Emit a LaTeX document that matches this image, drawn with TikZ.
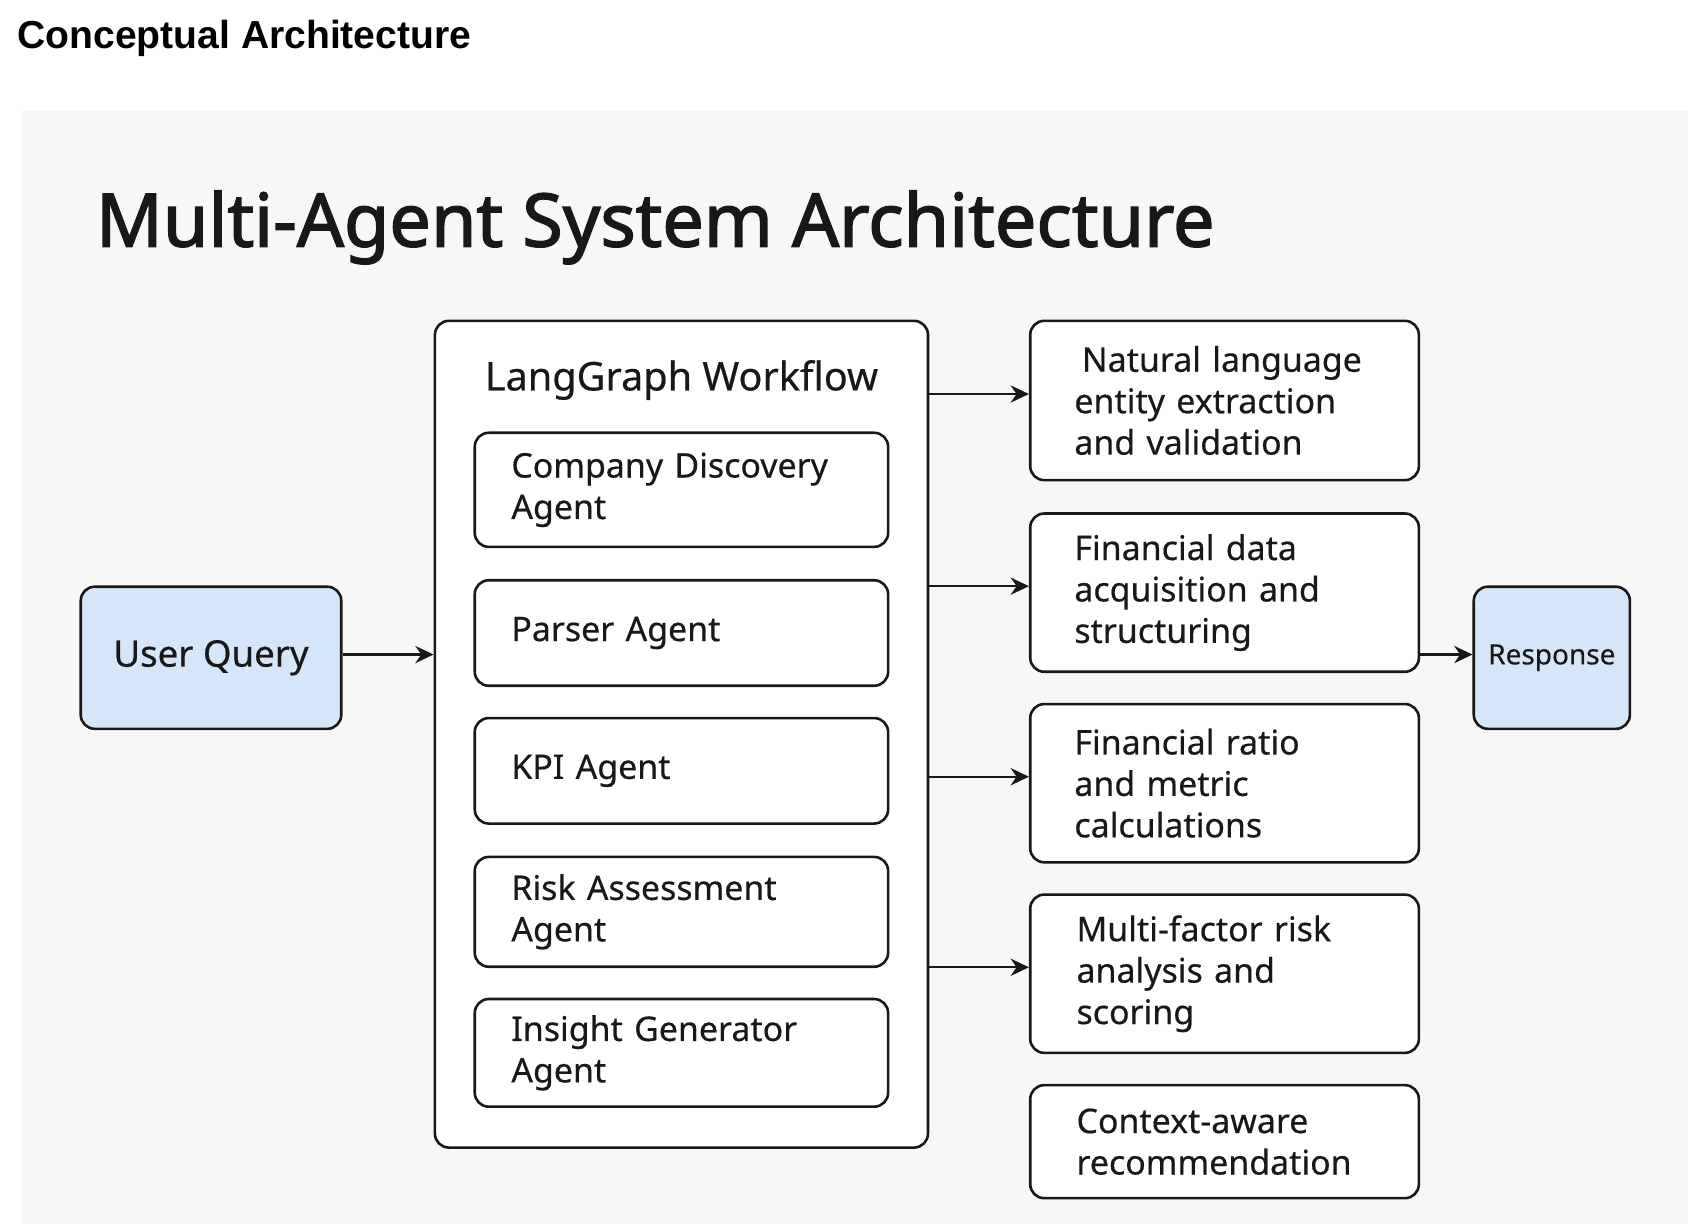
\documentclass[tikz,border=0pt]{standalone}
\usepackage{fontspec}
\setmainfont[FakeBold=0.4]{Noto Sans}
\newfontfamily\headfont{Liberation Sans}
\newfontfamily\titlefont[FakeBold=2]{Noto Sans}
\usetikzlibrary{arrows.meta}

\definecolor{panelgray}{RGB}{247,247,247}
\definecolor{queryblue}{RGB}{214,230,250}
\definecolor{inkblack}{RGB}{24,24,24}

\newcommand{\boxtext}{\fontsize{31.5}{38.5}\selectfont}

\tikzset{
    agentbox/.style={draw=inkblack, line width=2.4pt, fill=white, rounded corners=13pt,
        align=left, text width=316pt, inner xsep=34pt, inner ysep=0pt,
        font=\boxtext, text=inkblack},
    taskbox/.style={agentbox, text width=279pt, inner xsep=41pt},
    endbox/.style={draw=inkblack, line width=2.4pt, fill=queryblue, rounded corners=13pt,
        inner sep=0pt, align=center, text=inkblack, minimum height=132pt},
    flow/.style={draw=inkblack, line width=2.2pt, -{Stealth[length=17pt,width=16pt]}}
}

\begin{document}
\begin{tikzpicture}[x=1pt,y=-1pt]
    \useasboundingbox (0,0) rectangle (1568,1141);
    \fill[white] (0,0) rectangle (1568,1141);
    \fill[panelgray] (20,103) rectangle (1568,1137);

    % headings
    \node[anchor=base west, inner sep=0pt, font=\headfont\bfseries\fontsize{36.3}{40}\selectfont]
        (pagehead) at (16,45) {Conceptual Architecture};
    \node[anchor=base west, inner sep=0pt, text=inkblack,
        font=\titlefont\fontsize{68.5}{80}\selectfont]
        (title) at (89,229) {Multi-Agent System Architecture};

    % workflow container
    \node[draw=inkblack, line width=2.4pt, fill=white, rounded corners=13pt,
        minimum width=458pt, minimum height=768pt] (wf) at (633,682) {};
    \node[font=\fontsize{36.8}{40}\selectfont, text=inkblack] (wftitle) at (633,353) {LangGraph Workflow};

    % agents
    \node[agentbox, minimum height=106pt] (discovery) at (633,455) {Company Discovery\\Agent};
    \node[agentbox, minimum height=98pt] (parser) at (633,588) {Parser Agent};
    \node[agentbox, minimum height=98pt] (kpi) at (633,716) {KPI Agent};
    \node[agentbox, minimum height=102pt] (risk) at (633,847) {Risk Assessment\\Agent};
    \node[agentbox, minimum height=100pt] (insight) at (633,978) {Insight Generator\\Agent};

    % tasks
    \node[taskbox, minimum height=148pt] (nlp) at (1137.5,372) {\hspace*{7pt}Natural language\\entity extraction\\and validation};
    \node[taskbox, minimum height=147pt] (data) at (1137.5,550.5) {Financial data\\acquisition and\\structuring};
    \node[taskbox, minimum height=147pt] (ratio) at (1137.5,727.5) {Financial ratio\\and metric\\calculations};
    \node[taskbox, minimum height=147pt] (factor) at (1137.5,904.5) {\hspace*{2pt}Multi-factor risk\\\hspace*{2pt}analysis and\\\hspace*{2pt}scoring};
    \node[taskbox, minimum height=105pt] (context) at (1137.5,1060.5) {\hspace*{2pt}Context-aware\\\hspace*{2pt}recommendation};

    % ends
    \node[endbox, minimum width=242pt, font=\fontsize{34}{38}\selectfont] (query) at (196,611) {User Query};
    \node[endbox, minimum width=145pt, font=\fontsize{26}{30}\selectfont] (response) at (1441.5,611) {Response};

    % connectors
    \draw[flow] ([yshift=3pt]query.east) -- ([yshift=3pt]query.east -| wf.west);
    \foreach \task in {nlp,data,ratio,factor}
        \draw[flow] ([yshift=6pt]\task.west -| wf.east) -- ([yshift=6pt]\task.west);
    \draw[flow] ([yshift=3pt]response.west -| data.east) -- ([yshift=3pt]response.west);
\end{tikzpicture}
\end{document}
